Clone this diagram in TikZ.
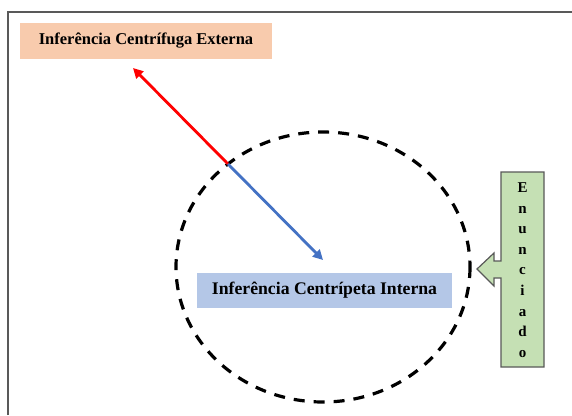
\documentclass[tikz,border=0pt]{standalone}
\usepackage{fontspec}
\setmainfont{Liberation Serif}
\usetikzlibrary{arrows.meta}
\definecolor{orangebox}{HTML}{F8CBAD}
\definecolor{bluebox}{HTML}{B4C7E7}
\definecolor{greenbox}{HTML}{C5E0B4}
\definecolor{arrowblue}{HTML}{4472C4}
\definecolor{framegray}{HTML}{595959}
\tikzset{
  labelbox/.style={inner sep=0pt, font=\bfseries},
  infarrow/.style={line width=2.8pt, -{Triangle[length=10pt,width=10pt]}},
}
\begin{document}
\begin{tikzpicture}[x=1pt,y=-1pt]
\useasboundingbox (0,0) rectangle (572,415);
\fill[white] (0,0) rectangle (572,415);
% frame (cropped)
\draw[framegray, line width=1.8pt] (8,415) -- (8,12) -- (572,12);
% dashed circle
\draw[black, line width=3.2pt, dash pattern=on 11pt off 9pt] (323,267) ellipse [x radius=147, y radius=135];
% boxes
\node[labelbox, fill=orangebox, minimum width=252pt, minimum height=36pt, font=\bfseries\fontsize{16.5}{19}\selectfont] (ext) at (146,41) {Inferência Centrífuga Externa};
\node[labelbox, fill=bluebox, minimum width=255pt, minimum height=35pt, font=\bfseries\fontsize{17.7}{20}\selectfont] (int) at (324.5,290.5) {Inferência Centrípeta Interna};
% arrows
\coordinate (o) at (228,164);
\coordinate (redtip) at (133,68);
\coordinate (bluetip) at (323,260);
\draw[infarrow, red] (o) -- (redtip);
\draw[infarrow, arrowblue] (o) -- (bluetip);
% enunciado callout
\draw[fill=greenbox, draw=framegray, line width=1.2pt]
  (501,172) -- (501,261) -- (494,261) -- (494,253) -- (477,269) -- (494,286) -- (494,278) -- (501,278) -- (501,367) -- (544,367) -- (544,172) -- cycle;
\node[labelbox, align=center, font=\bfseries\fontsize{15}{20.6}\selectfont] (enun) at (522.5,270) {E\\n\\u\\n\\c\\i\\a\\d\\o};
\end{tikzpicture}
\end{document}
